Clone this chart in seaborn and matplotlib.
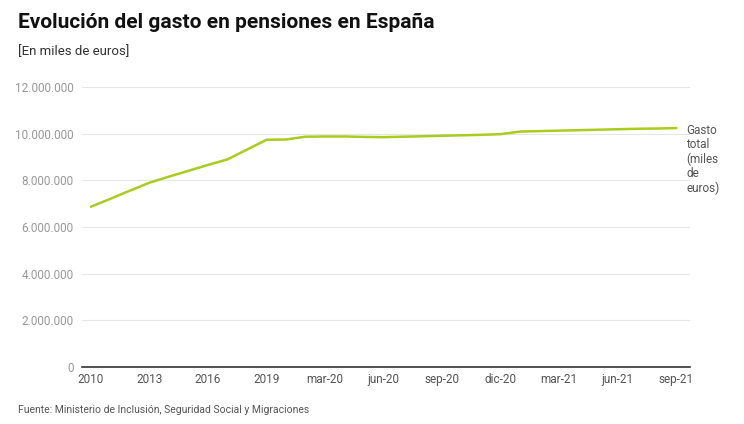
import numpy as np
import pandas as pd
import matplotlib.pyplot as plt
import seaborn as sns

# === data (miles de euros) ===
periods = ["2010", "2011", "2012", "2013", "2014", "2015", "2016", "2017", "2018", "2019",
           "ene-20", "feb-20", "mar-20", "abr-20", "may-20", "jun-20", "jul-20", "ago-20",
           "sep-20", "oct-20", "nov-20", "dic-20", "ene-21", "feb-21", "mar-21", "abr-21",
           "may-21", "jun-21", "jul-21", "ago-21", "sep-21"]
gasto = [6870000, 7210000, 7560000, 7900000, 8160000, 8410000, 8660000, 8900000, 9320000, 9740000,
         9750000, 9870000, 9880000, 9880000, 9860000, 9850000, 9870000, 9890000,
         9910000, 9930000, 9950000, 9980000, 10090000, 10110000, 10130000, 10150000,
         10170000, 10190000, 10210000, 10220000, 10240000]
tick_labels = ["2010", "2013", "2016", "2019", "mar-20", "jun-20", "sep-20",
               "dic-20", "mar-21", "jun-21", "sep-21"]
y_ticks = [0, 2000000, 4000000, 6000000, 8000000, 10000000, 12000000]

df = pd.DataFrame({"periodo": periods, "gasto": gasto})
df["pos"] = np.arange(len(df))

sns.set_theme(style="white")
plt.rcParams["font.family"] = ["Roboto", "DejaVu Sans"]

fig = plt.figure(figsize=(7.44, 4.24), dpi=100)
ax = fig.add_axes([82 / 744, 1 - 367 / 424, 608 / 744, 280 / 424])

sns.lineplot(data=df, x="pos", y="gasto", color="#a9cc1e", linewidth=1.8, ax=ax)

# x axis: label every 3rd period
tick_pos = [periods.index(t) for t in tick_labels]
ax.set_xticks(tick_pos)
ax.set_xticklabels(tick_labels, fontsize=8.5, color="#555555")
ax.set_xlim(-0.46, len(periods) - 1 + 0.7)

ax.set_ylim(0, 12000000)
ax.set_yticks(y_ticks)
ax.set_yticklabels([f"{v:,}".replace(",", ".") for v in y_ticks], fontsize=8.5, color="#999999")
ax.grid(axis="y", color="#e6e6e6", linewidth=0.8)
ax.set_axisbelow(True)
ax.tick_params(axis="y", length=0, pad=6)
ax.tick_params(axis="x", length=0, pad=4)
ax.set_xlabel("")
ax.set_ylabel("")
for s in ["top", "right", "left"]:
    ax.spines[s].set_visible(False)
ax.spines["bottom"].set_color("#333333")
ax.spines["bottom"].set_linewidth(1.2)

# series label at the end of the line
ax.annotate("Gasto\ntotal\n(miles\nde\neuros)", xy=(len(periods) - 1, gasto[-1]),
            xytext=(7, 3), textcoords="offset points",
            fontsize=8.5, color="#555555", va="top", ha="left", linespacing=1.12,
            annotation_clip=False)

fig.text(18 / 744, 1 - 22 / 424, "Evolución del gasto en pensiones en España",
         fontsize=15, fontweight="bold", color="#111111", va="center", ha="left")
fig.text(18 / 744, 1 - 52 / 424, "[En miles de euros]",
         fontsize=9.5, color="#333333", va="center", ha="left")
fig.text(18 / 744, 1 - 410 / 424, "Fuente: Ministerio de Inclusión, Seguridad Social y Migraciones",
         fontsize=7.5, color="#555555", va="center", ha="left")

fig.savefig("out.png", dpi=100, facecolor="white")
